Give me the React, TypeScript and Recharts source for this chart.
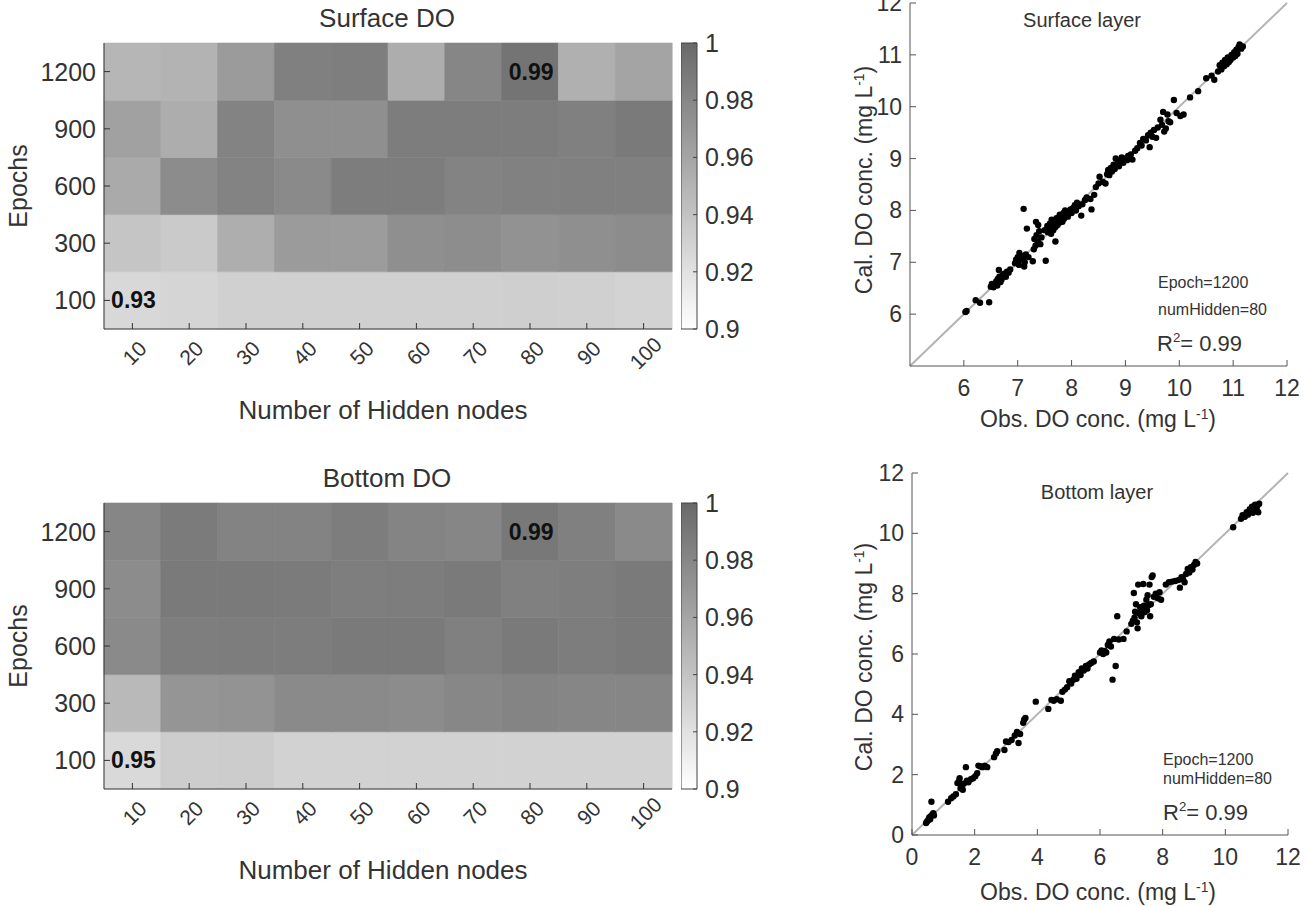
import React from 'react';
import {
  BarChart,
  Bar,
  Cell,
  XAxis,
  YAxis,
  LabelList,
  ScatterChart,
  Scatter,
  ReferenceLine,
} from 'recharts';

// ---------- data ----------
const hiddenNodes = ['10', '20', '30', '40', '50', '60', '70', '80', '90', '100'];
const epochs = ['100', '300', '600', '900', '1200']; // bottom -> top

// R² per epoch row (rows bottom -> top), per hidden-node column
const surfaceR2 = [
  [0.926, 0.928, 0.931, 0.931, 0.931, 0.931, 0.931, 0.932, 0.931, 0.929],
  [0.939, 0.935, 0.954, 0.967, 0.966, 0.975, 0.976, 0.973, 0.975, 0.977],
  [0.957, 0.977, 0.983, 0.978, 0.987, 0.987, 0.983, 0.984, 0.985, 0.985],
  [0.963, 0.955, 0.983, 0.975, 0.975, 0.987, 0.987, 0.987, 0.985, 0.989],
  [0.949, 0.951, 0.967, 0.985, 0.986, 0.955, 0.981, 0.993, 0.953, 0.961],
];
const bottomR2 = [
  [0.925, 0.933, 0.934, 0.93, 0.93, 0.93, 0.93, 0.93, 0.93, 0.93],
  [0.947, 0.971, 0.972, 0.978, 0.978, 0.977, 0.98, 0.982, 0.981, 0.981],
  [0.978, 0.986, 0.987, 0.987, 0.989, 0.989, 0.985, 0.989, 0.987, 0.989],
  [0.977, 0.989, 0.989, 0.988, 0.986, 0.987, 0.989, 0.985, 0.986, 0.989],
  [0.981, 0.988, 0.983, 0.983, 0.987, 0.982, 0.981, 0.99, 0.985, 0.978],
];
const surfaceNotes = [
  { row: 0, col: 0, label: '0.93' },
  { row: 4, col: 7, label: '0.99' },
];
const bottomNotes = [
  { row: 0, col: 0, label: '0.95' },
  { row: 4, col: 7, label: '0.99' },
];
const colorbarTicks = [0.9, 0.92, 0.94, 0.96, 0.98, 1];

// [observed, calculated]
const surfacePoints: [number, number][] = [
  [6.03, 6.04], [6.05, 6.06], [6.22, 6.27], [6.3, 6.22], [6.47, 6.23], [6.5, 6.53], [6.52, 6.58],
  [6.55, 6.52], [6.58, 6.57], [6.6, 6.63], [6.62, 6.55], [6.63, 6.68], [6.65, 6.85], [6.66, 6.72],
  [6.68, 6.62], [6.7, 6.67], [6.72, 6.75], [6.75, 6.78], [6.78, 6.72], [6.8, 6.82], [6.83, 6.8],
  [6.86, 6.86], [6.95, 6.98], [6.97, 7.05], [7.0, 7.1], [7.02, 6.95], [7.03, 7.18], [7.05, 7.05],
  [7.07, 7.12], [7.1, 7.08], [7.11, 8.03], [7.12, 6.92], [7.13, 7.0], [7.15, 7.15], [7.17, 7.65],
  [7.2, 7.1], [7.28, 7.02], [7.3, 7.25], [7.31, 7.45], [7.33, 7.32], [7.34, 7.78], [7.35, 7.52],
  [7.37, 7.4], [7.38, 7.72], [7.4, 7.6], [7.42, 7.35], [7.44, 7.48], [7.5, 7.62], [7.52, 7.03],
  [7.55, 7.7], [7.56, 7.58], [7.58, 7.65], [7.6, 7.75], [7.62, 7.55], [7.63, 7.82], [7.65, 7.7],
  [7.66, 7.62], [7.68, 7.78], [7.7, 7.4], [7.7, 7.68], [7.72, 7.85], [7.74, 7.72], [7.75, 7.8],
  [7.77, 7.76], [7.78, 7.92], [7.8, 7.85], [7.82, 7.88], [7.83, 7.78], [7.85, 7.95], [7.86, 7.84],
  [7.88, 8.0], [7.9, 7.92], [7.93, 7.88], [7.95, 7.97], [7.98, 8.02], [8.0, 7.95], [8.03, 8.05],
  [8.06, 8.1], [8.08, 8.0], [8.1, 8.15], [8.13, 8.08], [8.18, 7.9], [8.2, 8.12], [8.25, 8.2],
  [8.28, 8.25], [8.35, 8.22], [8.37, 8.02], [8.42, 8.3], [8.45, 8.45], [8.5, 8.52], [8.52, 8.65],
  [8.58, 8.55], [8.63, 8.52], [8.66, 8.7], [8.68, 8.78], [8.7, 8.68], [8.73, 8.82], [8.75, 8.75],
  [8.78, 8.88], [8.8, 8.8], [8.82, 9.0], [8.85, 8.9], [8.88, 8.85], [8.9, 8.95], [8.93, 9.02],
  [8.96, 8.92], [9.0, 9.0], [9.03, 8.97], [9.05, 9.05], [9.1, 9.08], [9.13, 8.98], [9.18, 9.15],
  [9.22, 9.2], [9.27, 9.3], [9.3, 9.25], [9.33, 9.38], [9.38, 9.35], [9.42, 9.45], [9.45, 9.22],
  [9.47, 9.5], [9.5, 9.42], [9.53, 9.55], [9.57, 9.4], [9.6, 9.6], [9.65, 9.75], [9.68, 9.65],
  [9.7, 9.9], [9.72, 9.52], [9.75, 9.58], [9.78, 9.85], [9.8, 9.72], [9.83, 9.7], [9.9, 10.13],
  [9.95, 9.88], [10.02, 9.82], [10.08, 9.85], [10.2, 10.18], [10.35, 10.3], [10.5, 10.55],
  [10.6, 10.6], [10.65, 10.52], [10.72, 10.68], [10.75, 10.8], [10.78, 10.72], [10.8, 10.85],
  [10.83, 10.78], [10.85, 10.9], [10.88, 10.82], [10.9, 10.95], [10.92, 10.86], [10.95, 10.9],
  [10.97, 11.0], [11.0, 10.95], [11.02, 11.05], [11.04, 10.98], [11.06, 11.1], [11.08, 11.02],
  [11.1, 11.15], [11.12, 11.2], [11.15, 11.12], [11.18, 11.16],
];
const bottomPoints: [number, number][] = [
  [0.45, 0.4], [0.48, 0.45], [0.52, 0.5], [0.55, 0.58], [0.58, 0.52], [0.6, 0.62], [0.62, 1.1],
  [0.65, 0.68], [0.68, 0.72], [0.7, 0.65], [1.15, 1.1], [1.25, 1.22], [1.32, 1.28], [1.4, 1.35],
  [1.45, 1.72], [1.5, 1.78], [1.52, 1.88], [1.55, 1.55], [1.58, 1.65], [1.62, 1.5], [1.65, 1.7],
  [1.72, 2.25], [1.75, 1.8], [1.8, 1.75], [1.88, 1.85], [1.95, 1.88], [2.02, 1.95], [2.08, 2.05],
  [2.12, 2.3], [2.18, 2.28], [2.25, 2.25], [2.32, 2.3], [2.4, 2.25], [2.62, 2.58], [2.68, 2.7],
  [2.72, 2.78], [2.95, 2.82], [3.0, 3.1], [3.08, 3.08], [3.18, 3.15], [3.28, 3.3], [3.35, 3.42],
  [3.4, 3.05], [3.45, 3.35], [3.55, 3.72], [3.58, 3.82], [3.62, 3.88], [3.95, 4.42], [4.35, 4.18],
  [4.45, 4.48], [4.52, 4.45], [4.62, 4.5], [4.75, 4.45], [4.8, 4.75], [4.88, 4.82], [4.95, 4.9],
  [5.02, 5.1], [5.08, 5.02], [5.15, 5.15], [5.2, 5.28], [5.25, 5.18], [5.32, 5.4], [5.38, 5.3],
  [5.42, 5.52], [5.48, 5.45], [5.55, 5.6], [5.6, 5.52], [5.65, 5.65], [5.72, 5.7], [5.8, 5.75],
  [6.0, 6.05], [6.05, 6.12], [6.1, 6.0], [6.15, 6.1], [6.2, 6.05], [6.25, 6.3], [6.3, 6.42],
  [6.35, 6.25], [6.4, 5.15], [6.45, 6.5], [6.5, 5.6], [6.55, 7.25], [6.6, 6.48], [6.75, 6.5],
  [6.85, 6.75], [7.0, 7.0], [7.05, 7.1], [7.08, 8.02], [7.1, 7.2], [7.12, 7.4], [7.15, 7.65],
  [7.18, 7.05], [7.2, 6.85], [7.22, 8.3], [7.25, 7.35], [7.28, 7.55], [7.3, 7.42], [7.32, 7.25],
  [7.35, 7.48], [7.38, 8.32], [7.4, 7.6], [7.42, 7.38], [7.45, 7.55], [7.48, 7.8], [7.5, 7.45],
  [7.52, 7.95], [7.55, 7.62], [7.58, 8.3], [7.6, 7.25], [7.62, 7.65], [7.65, 8.55], [7.68, 8.6],
  [7.72, 7.9], [7.78, 8.0], [7.85, 7.85], [7.9, 8.05], [7.95, 7.8], [8.1, 8.3], [8.2, 8.38],
  [8.3, 8.4], [8.4, 8.42], [8.5, 8.45], [8.55, 8.2], [8.6, 8.55], [8.65, 8.48], [8.7, 8.38],
  [8.75, 8.65], [8.8, 8.82], [8.85, 8.7], [8.9, 8.88], [8.95, 8.8], [9.0, 8.95], [9.05, 9.05],
  [9.1, 9.0], [10.25, 10.2], [10.5, 10.48], [10.55, 10.6], [10.62, 10.55], [10.68, 10.7],
  [10.72, 10.62], [10.78, 10.8], [10.82, 10.72], [10.85, 10.88], [10.88, 10.68], [10.92, 10.85],
  [10.95, 10.95], [11.0, 10.8], [11.02, 10.92], [11.05, 10.7], [11.08, 10.98],
];
const surfaceTicks = [6, 7, 8, 9, 10, 11, 12];
const bottomTicks = [0, 2, 4, 6, 8, 10, 12];

// ---------- styling helpers ----------
const FONT = "'Liberation Sans', Arial, Helvetica, sans-serif";
const TXT = '#333333';

const grayOf = (v: number) => {
  const l = Math.max(0, Math.min(255, Math.round(255 - (v - 0.9) * 1500)));
  const h = l.toString(16).padStart(2, '0');
  return `#${h}${h}${h}`;
};

const emptyTick = () => <g />;

const Abs = ({ x, y, rotate = 0, size, children, weight = 'normal', anchor = 'center', color = TXT }: any) => (
  <div
    style={{
      position: 'absolute',
      left: x,
      top: y,
      transform: `translate(${anchor === 'left' ? '0' : '-50%'}, -50%) rotate(${rotate}deg)`,
      fontFamily: FONT,
      fontSize: size,
      fontWeight: weight,
      color,
      whiteSpace: 'nowrap',
      lineHeight: 1,
    }}
  >
    {children}
  </div>
);

// ---------- heatmap ----------
function Heatmap({ top, title, values, notes, gid }: any) {
  const data = hiddenNodes.map((h) => {
    const r: any = { h };
    epochs.forEach((_, j) => (r['e' + j] = 1));
    return r;
  });
  const rowTicks = epochs.map((_, j) => j + 0.5);
  const xTick = (p: any) => (
    <text
      x={p.x + 2}
      y={p.y + 24}
      transform={`rotate(-45, ${p.x + 2}, ${p.y + 24})`}
      textAnchor="middle"
      dominantBaseline="central"
      fontSize={21}
      fill={TXT}
      fontFamily={FONT}
    >
      {p.payload.value}
    </text>
  );
  const yTick = (p: any) => (
    <text x={p.x - 8} y={p.y} textAnchor="end" dominantBaseline="central" fontSize={25} fill={TXT} fontFamily={FONT}>
      {epochs[Math.floor(p.payload.value)]}
    </text>
  );
  const cbTick = (p: any) => (
    <text x={p.x + 8} y={p.y} textAnchor="start" dominantBaseline="central" fontSize={25} fill={TXT} fontFamily={FONT}>
      {String(Number(Number(p.payload.value).toFixed(2)))}
    </text>
  );
  return (
    <>
      <div style={{ position: 'absolute', left: 0, top, width: 680, height: 440 }}>
        <BarChart
          width={680}
          height={440}
          data={data}
          margin={{ top: 43, right: 8, bottom: 51, left: 44 }}
          barCategoryGap={0}
          barGap={0}
        >
          <XAxis
            dataKey="h"
            height={60}
            interval={0}
            tickSize={-6}
            tickMargin={6}
            tick={xTick}
            axisLine={{ stroke: '#333' }}
            tickLine={{ stroke: '#333' }}
          />
          <XAxis
            xAxisId="top"
            dataKey="h"
            orientation="top"
            height={0}
            interval={0}
            tickSize={-6}
            tick={emptyTick}
            axisLine={{ stroke: '#333' }}
            tickLine={{ stroke: '#333' }}
          />
          <YAxis
            type="number"
            domain={[0, 5]}
            ticks={rowTicks}
            interval={0}
            width={60}
            tickSize={-6}
            tickMargin={6}
            tick={yTick}
            axisLine={{ stroke: '#333' }}
            tickLine={{ stroke: '#333' }}
          />
          <YAxis
            yAxisId="right"
            orientation="right"
            type="number"
            domain={[0, 5]}
            ticks={rowTicks}
            interval={0}
            width={0}
            tickSize={-6}
            tick={emptyTick}
            axisLine={{ stroke: '#333' }}
            tickLine={{ stroke: '#333' }}
          />
          {epochs.map((_, j) => (
            <Bar key={j} dataKey={'e' + j} stackId="s" isAnimationActive={false}>
              {hiddenNodes.map((__, i) => (
                <Cell key={i} fill={grayOf(values[j][i])} stroke={grayOf(values[j][i])} strokeWidth={0.6} />
              ))}
              <LabelList
                dataKey={'e' + j}
                content={(p: any) => {
                  const note = notes.find((n: any) => n.row === j && n.col === p.index);
                  if (!note) return null;
                  const vb = p.viewBox && p.viewBox.width !== undefined ? p.viewBox : p;
                  const cx = Number(vb.x) + Number(vb.width) / 2 + 1;
                  const cy = Number(vb.y) + Number(vb.height) / 2;
                  return (
                    <text
                      x={cx}
                      y={cy}
                      textAnchor="middle"
                      dominantBaseline="central"
                      fontSize={23}
                      fontWeight="bold"
                      fill="#111"
                      fontFamily={FONT}
                    >
                      {note.label}
                    </text>
                  );
                }}
              />
            </Bar>
          ))}
        </BarChart>
      </div>
      <div style={{ position: 'absolute', left: 681, top, width: 120, height: 440 }}>
        <BarChart
          width={120}
          height={440}
          data={[{ n: 'cb', v: [0.9, 1] }]}
          margin={{ top: 43, right: 0, bottom: 111, left: 0 }}
          barCategoryGap={0}
        >
          <defs>
            <linearGradient id={gid} x1="0" y1="1" x2="0" y2="0">
              <stop offset="0" stopColor={grayOf(0.9)} />
              <stop offset="1" stopColor={grayOf(1)} />
            </linearGradient>
          </defs>
          <XAxis dataKey="n" hide />
          <YAxis
            orientation="right"
            type="number"
            domain={[0.9, 1]}
            ticks={colorbarTicks}
            interval={0}
            width={104}
            tickSize={-4}
            tickMargin={4}
            tick={cbTick}
            axisLine={false}
            tickLine={{ stroke: '#444' }}
          />
          <Bar dataKey="v" fill={`url(#${gid})`} stroke="#444" strokeWidth={1} isAnimationActive={false} />
        </BarChart>
      </div>
      <Abs x={387} y={top + 18} size={26}>{title}</Abs>
      <Abs x={18} y={top + 186} size={25} rotate={-90}>Epochs</Abs>
      <Abs x={383} y={top + 410} size={26}>Number of Hidden nodes</Abs>
    </>
  );
}

// ---------- scatter ----------
function Scatterplot({ left, top, width, height, margin, lo, hi, ticks, points }: any) {
  const data = points.map(([x, y]: [number, number]) => ({ x, y }));
  const xTick = (p: any) => (
    <text x={p.x} y={p.y + 22} textAnchor="middle" dominantBaseline="central" fontSize={23} fill={TXT} fontFamily={FONT}>
      {p.payload.value}
    </text>
  );
  const yTick = (p: any) => (
    <text x={p.x - 8} y={p.y} textAnchor="end" dominantBaseline="central" fontSize={23} fill={TXT} fontFamily={FONT}>
      {p.payload.value}
    </text>
  );
  const frame = { stroke: '#555' };
  return (
    <div style={{ position: 'absolute', left, top, width, height }}>
      <ScatterChart width={width} height={height} margin={margin}>
        <XAxis
          type="number"
          dataKey="x"
          domain={[lo, hi]}
          ticks={ticks}
          interval={0}
          height={40}
          tickSize={-6}
          tickMargin={6}
          tick={xTick}
          axisLine={frame}
          tickLine={frame}
        />
        <XAxis
          xAxisId="top"
          orientation="top"
          type="number"
          dataKey="x"
          domain={[lo, hi]}
          ticks={ticks}
          interval={0}
          height={0}
          tickSize={-6}
          tick={emptyTick}
          axisLine={frame}
          tickLine={frame}
        />
        <YAxis
          type="number"
          dataKey="y"
          domain={[lo, hi]}
          ticks={ticks}
          interval={0}
          width={50}
          tickSize={-6}
          tickMargin={6}
          tick={yTick}
          axisLine={frame}
          tickLine={frame}
        />
        <YAxis
          yAxisId="right"
          orientation="right"
          type="number"
          dataKey="y"
          domain={[lo, hi]}
          ticks={ticks}
          interval={0}
          width={0}
          tickSize={-6}
          tick={emptyTick}
          axisLine={frame}
          tickLine={frame}
        />
        <ReferenceLine
          segment={[{ x: lo, y: lo }, { x: hi, y: hi }]}
          stroke="#b4b4b4"
          strokeWidth={2}
          ifOverflow="visible"
        />
        <Scatter
          data={data}
          isAnimationActive={false}
          shape={(p: any) => <circle cx={p.cx} cy={p.cy} r={3.2} fill="#000" />}
        />
      </ScatterChart>
    </div>
  );
}

const UnitLabel = ({ head }: any) => (
  <span>
    {head} (mg L<sup style={{ fontSize: '0.6em' }}>-1</sup>)
  </span>
);

export default function App() {
  return (
    <div style={{ position: 'absolute', left: 0, top: 0, width: 1310, height: 906, background: '#fff', overflow: 'hidden' }}>
      <Heatmap top={0} title="Surface DO" values={surfaceR2} notes={surfaceNotes} gid="cbTop" />
      <Heatmap top={460} title="Bottom DO" values={bottomR2} notes={bottomNotes} gid="cbBottom" />

      <Scatterplot
        left={830}
        top={0}
        width={480}
        height={420}
        margin={{ top: 3, right: 23, bottom: 14, left: 30 }}
        lo={5}
        hi={12}
        ticks={surfaceTicks}
        points={surfacePoints}
      />
      <Abs x={1082} y={20} size={20}>Surface layer</Abs>
      <Abs x={1158} y={283} size={16} anchor="left">Epoch=1200</Abs>
      <Abs x={1158} y={310} size={16} anchor="left">numHidden=80</Abs>
      <Abs x={1157} y={343} size={22} anchor="left">R<sup style={{ fontSize: '0.6em' }}>2</sup>= 0.99</Abs>
      <Abs x={864} y={180} size={23} rotate={-90}><UnitLabel head="Cal. DO conc." /></Abs>
      <Abs x={1098} y={419} size={23}><UnitLabel head="Obs. DO conc." /></Abs>

      <Scatterplot
        left={830}
        top={460}
        width={480}
        height={446}
        margin={{ top: 13, right: 22, bottom: 31, left: 32 }}
        lo={0}
        hi={12}
        ticks={bottomTicks}
        points={bottomPoints}
      />
      <Abs x={1097} y={492} size={20}>Bottom layer</Abs>
      <Abs x={1163} y={760} size={16} anchor="left">Epoch=1200</Abs>
      <Abs x={1163} y={779} size={16} anchor="left">numHidden=80</Abs>
      <Abs x={1163} y={812} size={22} anchor="left">R<sup style={{ fontSize: '0.6em' }}>2</sup>= 0.99</Abs>
      <Abs x={864} y={657} size={23} rotate={-90}><UnitLabel head="Cal. DO conc." /></Abs>
      <Abs x={1098} y={892} size={23}><UnitLabel head="Obs. DO conc." /></Abs>
    </div>
  );
}
